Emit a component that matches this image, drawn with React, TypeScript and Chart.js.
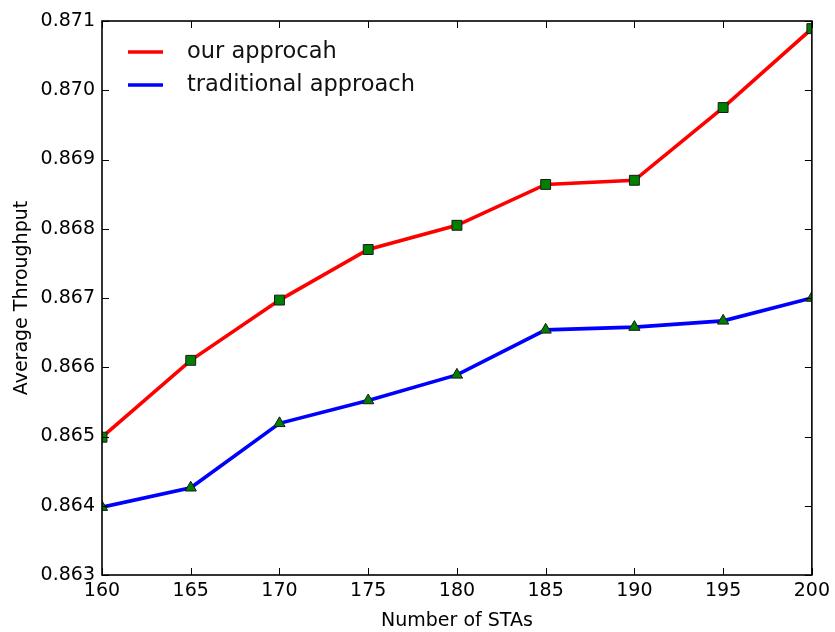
import React, { useEffect, useRef } from "react";
import { Chart, registerables } from "chart.js";

Chart.register(...registerables);

// ---- data ----
const stas = [160, 165, 170, 175, 180, 185, 190, 195, 200];
const ourApproach = [0.86499, 0.8661, 0.86697, 0.8677, 0.86805, 0.86864, 0.8687, 0.86975, 0.87089];
const traditionalApproach = [0.86398, 0.86426, 0.86519, 0.86552, 0.86589, 0.86654, 0.86658, 0.86667, 0.867];
const seriesLabels = ["our approcah", "traditional approach"];
const seriesColors = ["#ff0000", "#0000ff"];
const xTitle = "Number of STAs";
const yTitle = "Average Throughput";
const xRange = [160, 200];
const yRange = [0.863, 0.871];

const FONT = "'DejaVu Sans', sans-serif";

const framePlugin = {
  id: "frameTicks",
  afterDatasetsDraw(chart: any) {
    const { ctx, chartArea, scales } = chart;
    const { left, right, top, bottom } = chartArea;
    const x = scales.x;
    const y = scales.y;
    ctx.save();
    ctx.strokeStyle = "#000";
    ctx.lineWidth = 1;
    const tl = 7;
    ctx.beginPath();
    x.ticks.forEach((t: any) => {
      const px = Math.round(x.getPixelForValue(t.value)) + 0.5;
      ctx.moveTo(px, bottom);
      ctx.lineTo(px, bottom - tl);
      ctx.moveTo(px, top);
      ctx.lineTo(px, top + tl);
    });
    y.ticks.forEach((t: any) => {
      const py = Math.round(y.getPixelForValue(t.value)) + 0.5;
      ctx.moveTo(left, py);
      ctx.lineTo(left + tl, py);
      ctx.moveTo(right, py);
      ctx.lineTo(right - tl, py);
    });
    ctx.stroke();
    ctx.lineWidth = 1.6;
    ctx.strokeRect(left, top, right - left, bottom - top);
    ctx.restore();
  },
};

const legendPlugin = {
  id: "innerLegend",
  afterDraw(chart: any) {
    const { ctx, chartArea } = chart;
    const { left, top } = chartArea;
    ctx.save();
    ctx.font = `22.5px ${FONT}`;
    ctx.textBaseline = "middle";
    ctx.textAlign = "left";
    chart.data.datasets.forEach((ds: any, i: number) => {
      const cy = top + 31 + i * 33;
      ctx.strokeStyle = ds.borderColor;
      ctx.lineWidth = 3.6;
      ctx.beginPath();
      ctx.moveTo(left + 26, cy);
      ctx.lineTo(left + 61, cy);
      ctx.stroke();
      ctx.fillStyle = "#111";
      ctx.fillText(ds.label, left + 85, cy);
    });
    ctx.restore();
  },
};

export default function App() {
  const ref = useRef<HTMLCanvasElement | null>(null);

  useEffect(() => {
    if (!ref.current) return;
    const mk = (vals: number[]) => stas.map((s, i) => ({ x: s, y: vals[i] }));
    const chart = new Chart(ref.current, {
      type: "line",
      data: {
        datasets: [
          {
            label: seriesLabels[0],
            data: mk(ourApproach),
            borderColor: seriesColors[0],
            borderWidth: 3.6,
            pointStyle: "rect",
            pointRadius: 7,
            pointBackgroundColor: "#008000",
            pointBorderColor: "#1a1a1a",
            pointBorderWidth: 1,
            tension: 0,
            clip: 0,
          },
          {
            label: seriesLabels[1],
            data: mk(traditionalApproach),
            borderColor: seriesColors[1],
            borderWidth: 3.6,
            pointStyle: "triangle",
            pointRadius: 6.5,
            pointBackgroundColor: "#008000",
            pointBorderColor: "#1a1a1a",
            pointBorderWidth: 1,
            tension: 0,
            clip: 0,
          },
        ],
      },
      options: {
        responsive: false,
        animation: false,
        devicePixelRatio: 1,
        layout: { padding: { top: 21, right: 19, left: 0, bottom: 0 } },
        plugins: {
          legend: { display: false },
          tooltip: { enabled: false },
        },
        scales: {
          x: {
            type: "linear",
            min: xRange[0],
            max: xRange[1],
            grid: { display: false, drawTicks: false },
            border: { display: false },
            ticks: {
              stepSize: 5,
              padding: 5,
              color: "#000",
              font: { family: FONT, size: 19 },
              maxRotation: 0,
              callback: (v: any) => String(v),
            },
            title: {
              display: true,
              text: xTitle,
              color: "#000",
              font: { family: FONT, size: 19 },
              padding: { top: 3, bottom: 0 },
            },
            afterFit: (s: any) => {
              s.height = 57;
            },
          },
          y: {
            type: "linear",
            min: yRange[0],
            max: yRange[1],
            grid: { display: false, drawTicks: false },
            border: { display: false },
            ticks: {
              stepSize: 0.001,
              padding: 7,
              color: "#000",
              font: { family: FONT, size: 19 },
              callback: (v: any) => Number(v).toFixed(3),
            },
            title: {
              display: true,
              text: yTitle,
              color: "#000",
              font: { family: FONT, size: 19 },
              padding: { top: 10.6, bottom: 0 },
            },
            afterFit: (s: any) => {
              s.width = 102;
            },
          },
        },
      },
      plugins: [framePlugin, legendPlugin],
    });
    return () => chart.destroy();
  }, []);

  return (
    <div style={{ position: "absolute", left: 0, top: 0, width: 835, height: 632, background: "#fff" }}>
      <canvas ref={ref} width={835} height={632} style={{ display: "block" }} />
    </div>
  );
}
